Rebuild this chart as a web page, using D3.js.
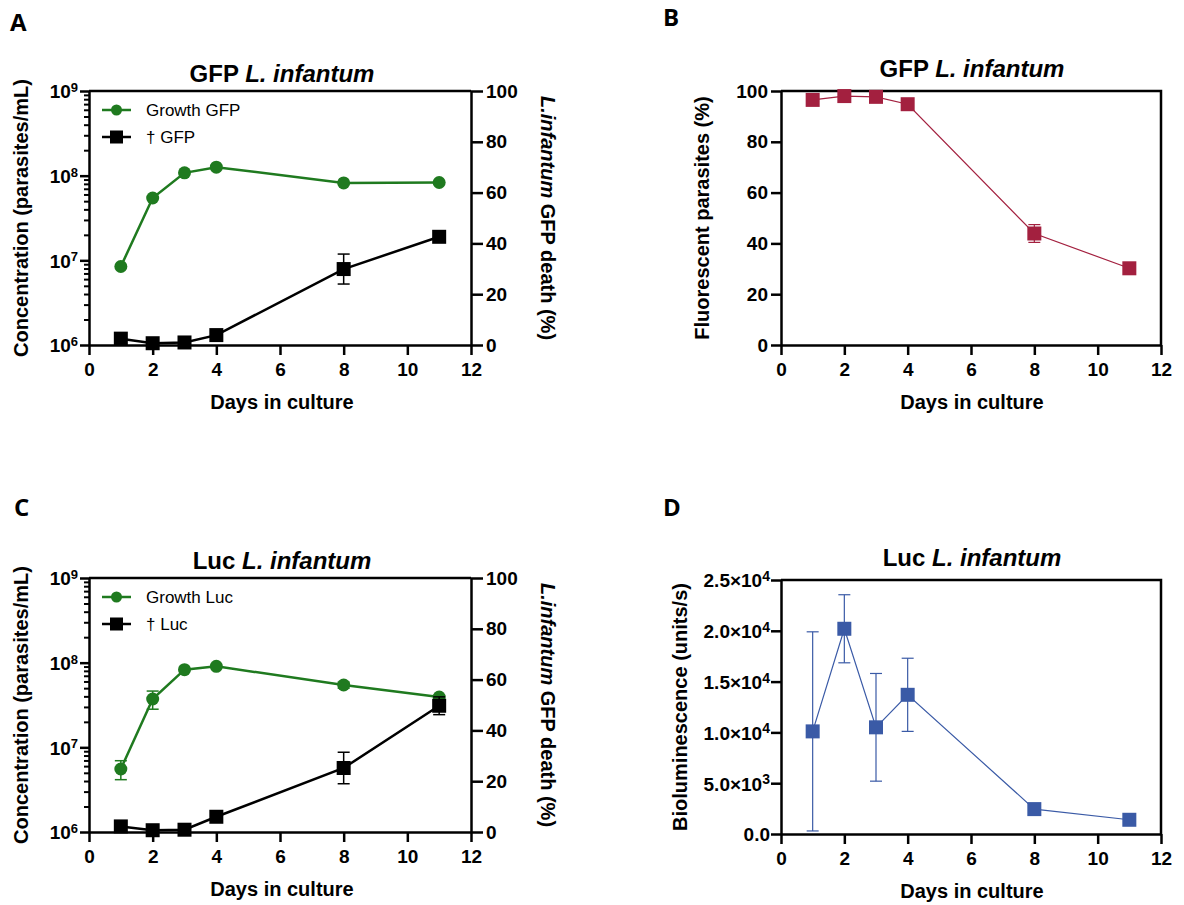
<!DOCTYPE html>
<html>
<head>
<meta charset="utf-8">
<script src="https://cdn.jsdelivr.net/npm/d3@7"></script>
<style>
  body { margin: 0; background: #fff; }
  svg { display: block; font-family: "Liberation Sans", Arial, sans-serif; }
  .tick text { font-weight: bold; font-size: 19px; }
</style>
</head>
<body>
<script>
// days sampled
const days = [1, 2, 3, 4, 8, 11];

// panel A: GFP L. infantum
const growthGFP = [8.45e6, 5.45e7, 1.08e8, 1.26e8, 8.2e7, 8.3e7];
const deathGFP = [2.5, 0.7, 1.0, 3.9, 29.9, 42.6];
const deathGFPErr = [0, 0, 0, 0, 5.9, 0];

// panel B: fluorescent parasites
const fluorGFP = [96.5, 98.0, 97.7, 94.8, 43.9, 30.2];
const fluorGFPErr = [0, 0, 0, 0, 3.5, 0];

// panel C: Luc L. infantum
const growthLuc = [5.55e6, 3.72e7, 8.26e7, 9.05e7, 5.45e7, 3.93e7];
const growthLucErr = [1.4e6, 9.0e6, 0, 0, 4.5e6, 1.5e6];
const deathLuc = [2.2, 0.7, 0.9, 6.0, 25.2, 49.7];
const deathLucErr = [0, 0, 0, 0, 6.2, 3.5];

// panel D: bioluminescence
const biolum = [10100, 20200, 10500, 13700, 2450, 1400];
const biolumErr = [9800, 3350, 5300, 3600, 250, 100];

const xTicks = [0, 2, 4, 6, 8, 10, 12];
const logMajor = [1e6, 1e7, 1e8, 1e9];
const pctTicks = [0, 20, 40, 60, 80, 100];
const biolumTicks = [0, 5000, 10000, 15000, 20000, 25000];
const biolumLabels = [["0.0", ""], ["5.0×10", "3"], ["1.0×10", "4"], ["1.5×10", "4"], ["2.0×10", "4"], ["2.5×10", "4"]];

const GREEN = "#1f7a1f";
const CRIMSON = "#a3203f";
const BLUE = "#3a5aa6";

const svg = d3.select("body").append("svg")
  .attr("width", 1184)
  .attr("height", 905);

function styleAxis(g, w) {
  g.select(".domain").attr("stroke", "#000").attr("stroke-width", w);
  g.selectAll(".tick line").attr("stroke", "#000").attr("stroke-width", w);
}

function bottomAxis(x, yb) {
  const g = svg.append("g")
    .attr("transform", `translate(0,${yb})`)
    .call(d3.axisBottom(x).tickValues(xTicks).tickSize(10).tickSizeOuter(0).tickPadding(8));
  styleAxis(g, 2.5);
  return g;
}

function panelText(x, y, str, size, anchor) {
  return svg.append("text")
    .attr("x", x).attr("y", y)
    .attr("text-anchor", anchor || "middle")
    .attr("font-weight", "bold")
    .attr("font-size", size)
    .text(str);
}

function title(cx, y, word) {
  const t = svg.append("text")
    .attr("x", cx).attr("y", y)
    .attr("text-anchor", "middle")
    .attr("font-weight", "bold")
    .attr("font-size", 24);
  t.append("tspan").text(word + " ");
  t.append("tspan").attr("font-style", "italic").text("L. infantum");
}

function letter(x, y, s) {
  svg.append("text")
    .attr("x", x).attr("y", y)
    .attr("font-family", "'Open Sans', sans-serif")
    .attr("font-weight", "bold")
    .attr("font-size", 24)
    .text(s);
}

function yTitle(x, y, str, rot) {
  return svg.append("text")
    .attr("transform", `translate(${x},${y}) rotate(${rot})`)
    .attr("text-anchor", "middle")
    .attr("font-weight", "bold")
    .attr("font-size", 20)
    .text(str);
}

function errorBars(g, x, y, vals, errs, color, w, cap) {
  days.forEach((d, i) => {
    if (!errs[i]) return;
    const hi = y(vals[i] + errs[i]);
    const lo = y(Math.max(vals[i] - errs[i], y.domain()[0] > 0 ? 1 : 0));
    const cx = x(d);
    g.append("line").attr("x1", cx).attr("x2", cx).attr("y1", hi).attr("y2", lo)
      .attr("stroke", color).attr("stroke-width", w);
    [hi, lo].forEach(yy => g.append("line")
      .attr("x1", cx - cap / 2).attr("x2", cx + cap / 2).attr("y1", yy).attr("y2", yy)
      .attr("stroke", color).attr("stroke-width", w));
  });
}

function series(x, y, vals, errs, color, lw, marker, msize, ew) {
  const g = svg.append("g");
  errorBars(g, x, y, vals, errs, color, ew, 12);
  const line = d3.line().x((d, i) => x(days[i])).y(d => y(d));
  g.append("path").datum(vals).attr("d", line)
    .attr("fill", "none").attr("stroke", color).attr("stroke-width", lw);
  if (marker === "circle") {
    g.selectAll("circle").data(vals).join("circle")
      .attr("cx", (d, i) => x(days[i])).attr("cy", d => y(d))
      .attr("r", msize / 2).attr("fill", color);
  } else {
    g.selectAll("rect").data(vals).join("rect")
      .attr("x", (d, i) => x(days[i]) - msize / 2).attr("y", d => y(d) - msize / 2)
      .attr("width", msize).attr("height", msize).attr("fill", color);
  }
}

// growth (log) + death (%) double-axis panel
function dualPanel(top, bot, word, growth, growthErr, death, deathErr, legendWord) {
  const x = d3.scaleLinear().domain([0, 12]).range([89, 471]);
  const yL = d3.scaleLog().domain([1e6, 1e9]).range([bot, top]);
  const yR = d3.scaleLinear().domain([0, 100]).range([bot, top]);

  // minor log ticks
  const minor = [];
  logMajor.slice(0, 3).forEach(m => { for (let k = 2; k <= 9; k++) minor.push(m * k); });
  const gm = svg.append("g").attr("transform", "translate(89,0)")
    .call(d3.axisLeft(yL).tickValues(minor).tickSize(5).tickFormat(""));
  gm.select(".domain").remove();
  gm.selectAll(".tick line").attr("stroke", "#000").attr("stroke-width", 2);

  const gl = svg.append("g").attr("transform", "translate(89,0)")
    .call(d3.axisLeft(yL).tickValues(logMajor).tickSize(9).tickSizeOuter(0).tickFormat(""));
  styleAxis(gl, 2.5);
  gl.selectAll(".tick").append("text")
    .attr("x", -11).attr("dy", "0.36em").attr("fill", "#000").attr("text-anchor", "end")
    .each(function (d) {
      const t = d3.select(this);
      t.append("tspan").text("10");
      t.append("tspan").attr("dy", "-0.5em").attr("font-size", 13).text(Math.round(Math.log10(d)));
    });

  const gr = svg.append("g").attr("transform", "translate(471,0)")
    .call(d3.axisRight(yR).tickValues(pctTicks).tickSize(12).tickSizeOuter(0).tickPadding(3));
  styleAxis(gr, 2.5);

  bottomAxis(x, bot);
  svg.append("line").attr("x1", x(0)).attr("x2", x(12)).attr("y1", top).attr("y2", top)
    .attr("stroke", "#000").attr("stroke-width", 2.5);

  series(x, yL, growth, growthErr, GREEN, 2.5, "circle", 13, 1.5);
  series(x, yR, death, deathErr, "#000", 2.5, "square", 14, 1.5);

  // legend
  const lg = svg.append("g");
  [[GREEN, "circle", "Growth " + legendWord], ["#000", "square", "† " + legendWord]].forEach((it, i) => {
    const ly = top + 19 + i * 27;
    lg.append("line").attr("x1", 102).attr("x2", 131).attr("y1", ly).attr("y2", ly)
      .attr("stroke", it[0]).attr("stroke-width", 2.5);
    if (it[1] === "circle") lg.append("circle").attr("cx", 116.5).attr("cy", ly).attr("r", 5.5).attr("fill", it[0]);
    else lg.append("rect").attr("x", 110).attr("y", ly - 6.5).attr("width", 13).attr("height", 13).attr("fill", it[0]);
    lg.append("text").attr("x", 146).attr("y", ly + 6).attr("font-size", 17).text(it[2]);
  });

  title(282, top - 9, word);
  const mid = (top + bot) / 2;
  yTitle(28, mid, "Concentration (parasites/mL)", -90);
  const rt = svg.append("text")
    .attr("transform", `translate(541,${mid}) rotate(90)`)
    .attr("text-anchor", "middle").attr("font-weight", "bold").attr("font-size", 20);
  rt.append("tspan").attr("font-style", "italic").text("L.infantum");
  rt.append("tspan").text(" GFP death (%)");
  panelText(282, bot + 64, "Days in culture", 20);
}

function boxPanel(top, bot, y, ticks, fmt, vals, errs, color, word, ylabel, ytx) {
  const x = d3.scaleLinear().domain([0, 12]).range([781, 1161]);
  y.range([bot, top]);
  const gl = svg.append("g").attr("transform", "translate(781,0)")
    .call(d3.axisLeft(y).tickValues(ticks).tickSize(10).tickSizeOuter(0).tickPadding(3).tickFormat(fmt ? "" : d3.format("d")));
  styleAxis(gl, 2.5);
  if (fmt) {
    gl.selectAll(".tick").append("text")
      .attr("x", -11).attr("dy", "0.36em").attr("fill", "#000").attr("text-anchor", "end")
      .each(function (d, i) {
        const t = d3.select(this);
        t.append("tspan").text(fmt[i][0]);
        if (fmt[i][1]) t.append("tspan").attr("dy", "-0.45em").attr("font-size", 14).text(fmt[i][1]);
      });
  }
  bottomAxis(x, bot);
  svg.append("path")
    .attr("d", `M${x(0)},${top}H${x(12)}V${bot}`)
    .attr("fill", "none").attr("stroke", "#000").attr("stroke-width", 2.5);
  series(x, y, vals, errs, color, 1.2, "square", 14, 1.2);
  title(972, top - 14, word);
  yTitle(ytx, (top + bot) / 2, ylabel, -90);
  panelText(972, bot + 64, "Days in culture", 20);
}

letter(10, 31, "A");
letter(663, 26, "B");
letter(14, 516, "C");
letter(663, 516, "D");

dualPanel(91, 345, "GFP", growthGFP, [0, 0, 0, 0, 0, 0], deathGFP, deathGFPErr, "GFP");
dualPanel(578, 832, "Luc", growthLuc, growthLucErr, deathLuc, deathLucErr, "Luc");

boxPanel(91, 345, d3.scaleLinear().domain([0, 100]), pctTicks, null,
  fluorGFP, fluorGFPErr, CRIMSON, "GFP", "Fluorescent parasites (%)", 709);
boxPanel(580, 834, d3.scaleLinear().domain([0, 25000]), biolumTicks, biolumLabels,
  biolum, biolumErr, BLUE, "Luc", "Bioluminescence (units/s)", 687);
</script>
</body>
</html>
